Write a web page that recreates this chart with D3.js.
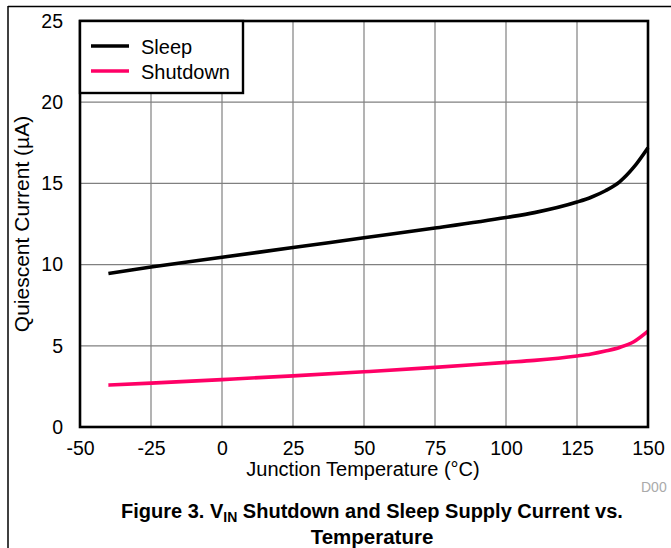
<!DOCTYPE html>
<html><head><meta charset="utf-8">
<script src="https://cdn.jsdelivr.net/npm/d3@7"></script>
<style>body{margin:0;background:#fff}svg{display:block}text{font-family:"Liberation Sans",Arial,sans-serif}</style>
</head><body>
<svg id="c" width="671" height="548"></svg>
<script>
const temps = [-40, -25, 0, 25, 50, 75, 100, 110, 125, 130, 135, 140, 145, 150];
const sleep = [9.45, 9.85, 10.45, 11.05, 11.65, 12.25, 12.9, 13.2, 13.85, 14.15, 14.55, 15.1, 16.0, 17.2];
const shutdown = [2.58, 2.7, 2.92, 3.15, 3.4, 3.67, 3.98, 4.1, 4.37, 4.5, 4.68, 4.9, 5.25, 5.9];
const xTicks = [-50, -25, 0, 25, 50, 75, 100, 125, 150];
const yTicks = [0, 5, 10, 15, 20, 25];
const seriesNames = ["Sleep", "Shutdown"];
const seriesColors = ["#000000", "#ff0066"];

const svg = d3.select("#c");
const L = 80, R = 648, T = 21, B = 427;
const x = d3.scaleLinear().domain([-50, 150]).range([L, R]);
const y = d3.scaleLinear().domain([0, 25]).range([B, T]);
const FONT = "Liberation Sans, Arial, sans-serif";

// page frame lines
svg.append("line").attr("x1", 8).attr("x2", 671).attr("y1", 6.5).attr("y2", 6.5).attr("stroke", "#000").attr("stroke-width", 1.5);
svg.append("line").attr("x1", 8).attr("x2", 8).attr("y1", 6).attr("y2", 548).attr("stroke", "#000").attr("stroke-width", 1.5);

// grid
const g = svg.append("g");
g.selectAll(".vg").data(xTicks).join("line")
  .attr("x1", d => x(d)).attr("x2", d => x(d)).attr("y1", T).attr("y2", B)
  .attr("stroke", "#808080").attr("stroke-width", 1.2);
g.selectAll(".hg").data(yTicks).join("line")
  .attr("x1", L).attr("x2", R).attr("y1", d => y(d)).attr("y2", d => y(d))
  .attr("stroke", "#808080").attr("stroke-width", 1.2);

// axes labels
const xAxis = d3.axisBottom(x).tickValues(xTicks).tickSize(0).tickPadding(14).tickFormat(d => String(d));
const xa = svg.append("g").attr("transform", `translate(0,${B})`).call(xAxis);
xa.select(".domain").remove();
xa.selectAll("text").attr("font-size", 19.5).attr("fill", "#000").attr("font-family", FONT);
const yAxis = d3.axisLeft(y).tickValues(yTicks).tickSize(0).tickPadding(17).tickFormat(d => String(d));
const ya = svg.append("g").attr("transform", `translate(${L},0)`).call(yAxis);
ya.select(".domain").remove();
ya.selectAll("text").attr("font-size", 19.5).attr("fill", "#000").attr("font-family", FONT);

// lines
const line = d3.line().x((d, i) => x(temps[i])).y(d => y(d)).curve(d3.curveMonotoneX);
[sleep, shutdown].forEach((s, k) => {
  svg.append("path").datum(s).attr("d", line).attr("fill", "none")
    .attr("stroke", seriesColors[k]).attr("stroke-width", 3.6).attr("stroke-linejoin", "round");
});

// frame
svg.append("rect").attr("x", L).attr("y", T).attr("width", R - L).attr("height", B - T)
  .attr("fill", "none").attr("stroke", "#000").attr("stroke-width", 2.6);

// legend
const lg = svg.append("g");
lg.append("rect").attr("x", L).attr("y", T).attr("width", 163).attr("height", 72)
  .attr("fill", "#fff").attr("stroke", "#000").attr("stroke-width", 2.4);
seriesNames.forEach((n, i) => {
  const yy = 46 + i * 25;
  lg.append("line").attr("x1", 91).attr("x2", 129).attr("y1", yy).attr("y2", yy)
    .attr("stroke", seriesColors[i]).attr("stroke-width", 3.6);
  lg.append("text").attr("x", 141).attr("y", yy + 7.5).attr("font-size", 20).text(n);
});

// axis titles
svg.append("text").attr("x", 363).attr("y", 476).attr("text-anchor", "middle")
  .attr("font-size", 20).text("Junction Temperature (\u00B0C)");
svg.append("text").attr("transform", `translate(29,${(T + B) / 2}) rotate(-90)`).attr("text-anchor", "middle")
  .attr("font-size", 21).text("Quiescent Current (\u00B5A)");

svg.append("text").attr("x", 641).attr("y", 492).attr("font-size", 14).attr("fill", "#aaa").text("D00");

// title
const t1 = svg.append("text").attr("x", 372).attr("y", 518).attr("text-anchor", "middle")
  .attr("font-size", 20).attr("font-weight", "bold");
t1.append("tspan").text("Figure 3. V");
t1.append("tspan").attr("font-size", 14).attr("dy", 4).text("IN");
t1.append("tspan").attr("dy", -4).text(" Shutdown and Sleep Supply Current vs.");
svg.append("text").attr("x", 372).attr("y", 544).attr("text-anchor", "middle")
  .attr("font-size", 20.5).attr("font-weight", "bold").text("Temperature");
</script>
</body></html>
